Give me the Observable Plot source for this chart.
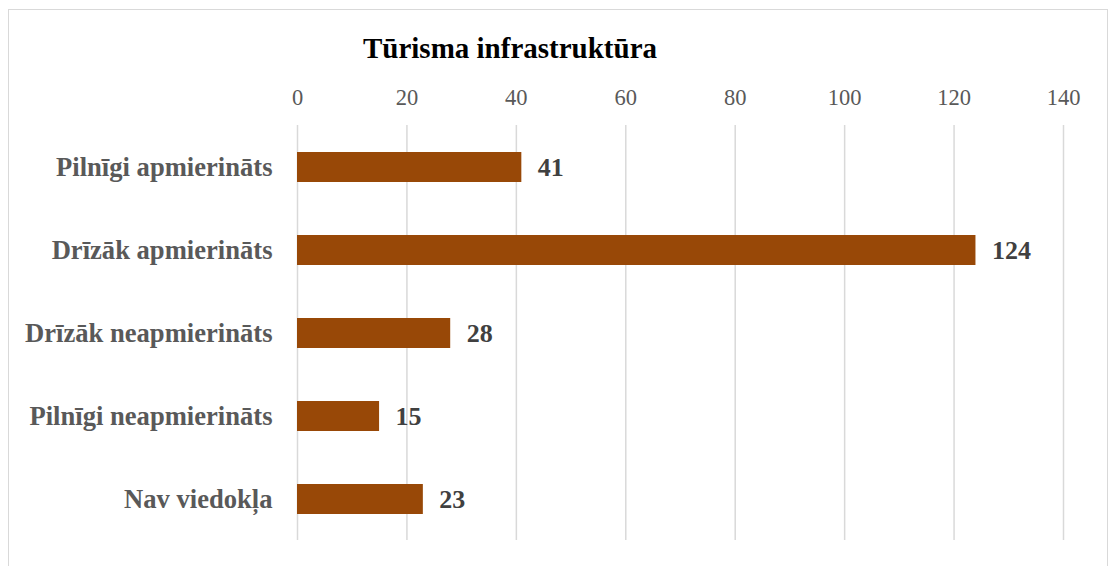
<!DOCTYPE html>
<html><head><meta charset="utf-8">
<script src="https://cdn.jsdelivr.net/npm/d3@7"></script>
<script src="https://cdn.jsdelivr.net/npm/@observablehq/plot@0.6"></script>
<style>
html,body{margin:0;padding:0;background:#fff;}
#wrap{position:relative;width:1109px;height:566px;overflow:hidden;font-family:"Liberation Serif","Times New Roman",serif;}
#border{position:absolute;left:8px;top:9px;width:1100px;height:600px;border:1.5px solid #d9d9d9;box-sizing:border-box;}
#title{position:absolute;left:0;top:31px;width:1020px;text-align:center;font-weight:bold;font-size:29px;line-height:34px;color:#000;}
#chart{position:absolute;left:0;top:0;}
</style></head>
<body><div id="wrap"><div id="border"></div><div id="title">Tūrisma infrastruktūra</div><div id="chart"></div></div>
<script>
const categories = ["Pilnīgi apmierināts","Drīzāk apmierināts","Drīzāk neapmierināts","Pilnīgi neapmierināts","Nav viedokļa"];
const values = [41,124,28,15,23];
const xTicks = [0,20,40,60,80,100,120,140];
const data = categories.map((c,i)=>({cat:c,val:values[i]}));
const plot = Plot.plot({
  width:1109, height:566,
  marginLeft:297, marginRight:46, marginTop:125, marginBottom:26,
  style:{fontFamily:'"Liberation Serif","Times New Roman",serif', background:"transparent"},
  x:{domain:[0,140], ticks:xTicks, axis:null, label:null},
  y:{domain:categories, paddingInner:0.64, paddingOuter:0.32, axis:null, label:null},
  marks:[
    Plot.gridX(xTicks,{stroke:"#d9d9d9",strokeOpacity:1,strokeWidth:1.5}),
    Plot.axisX({anchor:"top",ticks:xTicks,tickSize:0,tickPadding:21,fontSize:22.5,fill:"#595959",label:null}),
    Plot.axisY({anchor:"left",tickSize:0,tickPadding:25,fontSize:26.6,fontWeight:"bold",fill:"#595959",label:null}),
    Plot.barX(data,{x:"val",y:"cat",fill:"#984807"}),
    Plot.text(data,{x:"val",y:"cat",text:d=>String(d.val),textAnchor:"start",dx:16,fontSize:26,fontWeight:"bold",fill:"#404040"})
  ]
});
document.getElementById("chart").appendChild(plot);
</script></body></html>
